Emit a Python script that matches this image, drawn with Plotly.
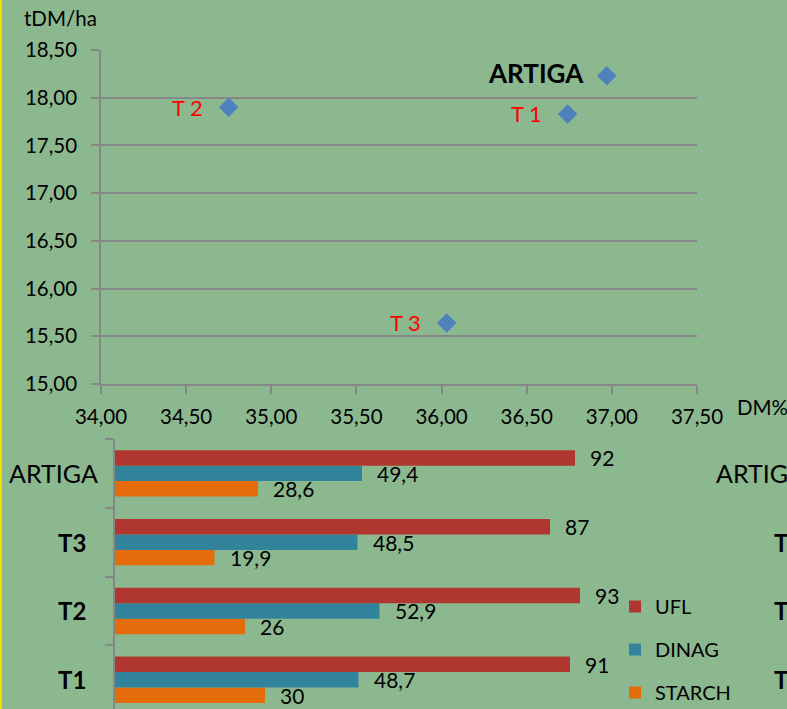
import plotly.graph_objects as go

W, H = 787, 709


def px(x):
    return x / W


def py(y):
    return 1 - y / H


# ---------------- data ----------------
point_names = ["T 1", "T 2", "T 3", "ARTIGA"]
dm_pct = [36.74, 34.75, 36.03, 36.97]
yield_tdm = [17.83, 17.90, 15.64, 18.23]

bar_cats = ["T1", "T2", "T3", "ARTIGA"]
bar_cat_labels = ["<b>T1</b>", "<b>T2</b>", "<b>T3</b>", "ARTIGA"]
ufl = [91, 93, 87, 92]
dinag = [48.7, 52.9, 48.5, 49.4]
starch = [30, 26, 19.9, 28.6]

FONT = "Lato"
BG = "#8CB890"
GRID = "#878787"
C_UFL = "#B0372F"
C_DINAG = "#31849B"
C_STARCH = "#E46C0A"

fig = go.Figure()

# scatter
fig.add_trace(go.Scatter(
    x=dm_pct, y=yield_tdm, mode="markers",
    marker=dict(symbol="diamond", size=15, color="#4F81BD"),
    showlegend=False, xaxis="x", yaxis="y", hoverinfo="skip"))

# bars (first trace drawn lowest in each group)
series = [("STARCH", starch, C_STARCH, 3), ("DINAG", dinag, C_DINAG, 2), ("UFL", ufl, C_UFL, 1)]
for name, vals, col, rank in series:
    fig.add_trace(go.Bar(
        y=bar_cats, x=vals, name=name, orientation="h",
        marker=dict(color=col, line=dict(width=0)),
        xaxis="x2", yaxis="y2", legendgroup=name, legendrank=rank))

annotations = []
# scatter point labels
for n, x, y in zip(point_names, dm_pct, yield_tdm):
    if n == "ARTIGA":
        annotations.append(dict(x=x, y=y, xref="x", yref="y", text="<b>ARTIGA</b>",
                                showarrow=False, xanchor="right", xshift=-21, yshift=3,
                                font=dict(family=FONT, size=26, color="black")))
    else:
        annotations.append(dict(x=x, y=y, xref="x", yref="y", text=n,
                                showarrow=False, xanchor="right", xshift=-24,
                                font=dict(family=FONT, size=22, color="#FF0000")))


def fmt(v):
    s = ("%g" % v)
    return s.replace(".", ",")


shifts = {"UFL": 15.5, "DINAG": 0, "STARCH": -15.5}
for name, vals, col, rank in series:
    for c, v in zip(bar_cats, vals):
        annotations.append(dict(x=v, y=c, xref="x2", yref="y2", text=fmt(v),
                                showarrow=False, xanchor="left", xshift=13,
                                yshift=shifts[name],
                                font=dict(family=FONT, size=21, color="black")))

# bar category labels (and their clipped copies at the right edge)
for c, lab in zip(bar_cats, bar_cat_labels):
    right = 100 if c == "ARTIGA" else 88
    size = 25 if c == "ARTIGA" else 24
    annotations.append(dict(x=px(right), y=c, xref="paper", yref="y2", text=lab,
                            showarrow=False, xanchor="right", yanchor="middle",
                            font=dict(family=FONT, size=size, color="black")))
    left = 714 if c == "ARTIGA" else 772
    annotations.append(dict(x=px(left), y=c, xref="paper", yref="y2", text=lab,
                            showarrow=False, xanchor="left", yanchor="middle",
                            font=dict(family=FONT, size=size, color="black")))

# axis titles
annotations.append(dict(x=px(22), y=py(18), xref="paper", yref="paper", text="tDM/ha",
                        showarrow=False, xanchor="left", yanchor="middle",
                        font=dict(family=FONT, size=20.5, color="black")))
annotations.append(dict(x=px(735), y=py(407), xref="paper", yref="paper", text="DM%",
                        showarrow=False, xanchor="left", yanchor="middle",
                        font=dict(family=FONT, size=20.5, color="black")))

fig.update_layout(
    template="none",
    width=W, height=H,
    margin=dict(l=0, r=0, t=0, b=0, pad=0, autoexpand=False),
    paper_bgcolor=BG, plot_bgcolor=BG,
    separators=", ",
    font=dict(family=FONT, size=19, color="black"),
    barmode="group", bargap=0.324, bargroupgap=0,
    xaxis=dict(domain=[px(101), px(697)], anchor="y", range=[34, 37.5], dtick=0.5,
               tickformat=".2f", showgrid=False, zeroline=False, automargin=False,
               showline=True, linecolor=GRID, linewidth=1.5,
               ticks="outside", ticklen=8, tickcolor=GRID, tickwidth=1.5,
               ticklabelstandoff=6,
               tickfont=dict(family=FONT, size=20.5)),
    yaxis=dict(domain=[py(384), py(50)], anchor="x", range=[15, 18.5], dtick=0.5,
               tickformat=".2f", showgrid=True, gridcolor=GRID, gridwidth=1.5,
               zeroline=False, showline=True, linecolor=GRID, linewidth=1.5,
               ticks="outside", ticklen=8, tickcolor=GRID, tickwidth=1.5,
               ticklabelstandoff=10, automargin=False,
               tickfont=dict(family=FONT, size=20.5)),
    xaxis2=dict(domain=[px(115), px(615)], anchor="y2", range=[0, 100],
                visible=False, automargin=False),
    yaxis2=dict(domain=[0, py(439)], anchor="x2", type="category",
                categoryorder="array", categoryarray=bar_cats,
                range=[-0.427, 3.5], showgrid=False, zeroline=False,
                showline=True, linecolor=GRID, linewidth=1.5, automargin=False,
                ticks="outside", tickson="boundaries", ticklen=8,
                tickcolor=GRID, tickwidth=1.5, showticklabels=False),
    legend=dict(x=px(615), y=py(587), xanchor="left", yanchor="top",
                traceorder="grouped", tracegroupgap=14,
                bgcolor="rgba(0,0,0,0)", font=dict(family=FONT, size=20)),
    annotations=annotations,
    shapes=[dict(type="line", xref="paper", yref="paper", x0=px(1), x1=px(1), y0=0, y1=1,
                 line=dict(color="#F0E000", width=2))],
)

fig.write_html("out.html", config={"displayModeBar": False},
               post_script="document.body.style.margin='0';")
